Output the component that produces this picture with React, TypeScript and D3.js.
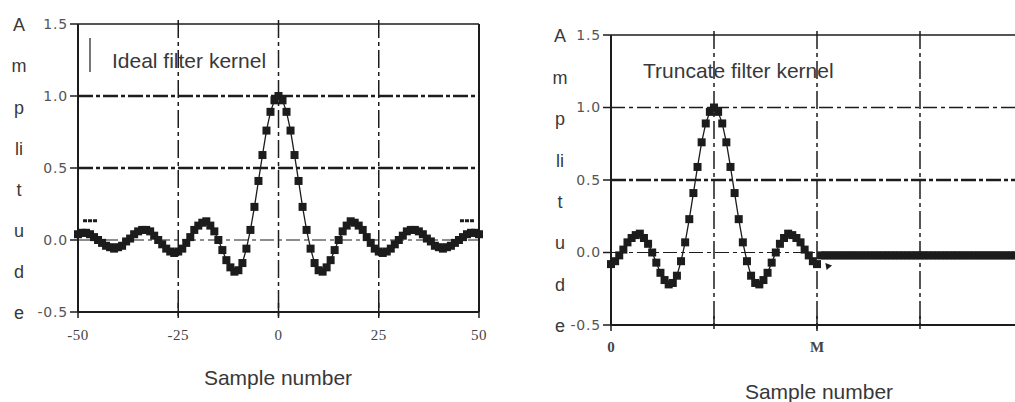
import * as d3 from "d3";

const W = 1015;
const H = 402;

const Y_TICKS = [1.5, 1.0, 0.5, 0.0, -0.5];
const Y_TICK_LABELS = ["1.5", "1.0", "0.5", "0.0", "-0.5"];
const AXIS_LETTERS = ["A", "m", "p", "li", "t", "u", "d", "e"];

// ideal (infinite) kernel, sample -50 .. 50
const IDEAL_START = -50;
const IDEAL_X_TICKS = [-50, -25, 0, 25, 50];
const IDEAL_X_LABELS = ["-50", "-25", "0", "25", "50"];
const IDEAL_GRID_X = [-25, 0, 25];
const IDEAL_KERNEL = [
  0.04, 0.05, 0.05, 0.04, 0.02, 0.0, -0.02, -0.04, -0.05, -0.06,
  -0.05, -0.04, -0.01, 0.01, 0.04, 0.06, 0.07, 0.07, 0.06, 0.03,
  0.0, -0.03, -0.06, -0.08, -0.09, -0.08, -0.06, -0.02, 0.02, 0.07,
  0.1, 0.12, 0.13, 0.1, 0.06, 0.0, -0.07, -0.14, -0.19, -0.22,
  -0.21, -0.16, -0.06, 0.07, 0.23, 0.41, 0.59, 0.76, 0.89, 0.97,
  1.0,
  0.97, 0.89, 0.76, 0.59, 0.41, 0.23, 0.07, -0.06, -0.16, -0.21,
  -0.22, -0.19, -0.14, -0.07, 0.0, 0.06, 0.1, 0.13, 0.12, 0.1,
  0.07, 0.02, -0.02, -0.06, -0.08, -0.09, -0.08, -0.06, -0.03, 0.0,
  0.03, 0.06, 0.07, 0.07, 0.06, 0.04, 0.01, -0.01, -0.04, -0.05,
  -0.06, -0.05, -0.04, -0.02, 0.0, 0.02, 0.04, 0.05, 0.05, 0.04,
];

// truncated kernel, sample 0 .. M (M = 50), then flat tail
const TRUNC_X_TICKS = [0, 50];
const TRUNC_X_LABELS = ["0", "M"];
const TRUNC_GRID_X = [25, 50, 75];
const TRUNC_KERNEL = [
  -0.08, -0.06, -0.02, 0.02, 0.07, 0.1, 0.12, 0.13, 0.1, 0.06,
  0.0, -0.07, -0.14, -0.19, -0.22, -0.21, -0.16, -0.06, 0.07, 0.23,
  0.41, 0.59, 0.76, 0.89, 0.97, 1.0, 0.97, 0.89, 0.76, 0.59,
  0.41, 0.23, 0.07, -0.06, -0.16, -0.21, -0.22, -0.19, -0.14, -0.07,
  0.0, 0.06, 0.1, 0.13, 0.12, 0.1, 0.07, 0.02, -0.02, -0.06,
  -0.08,
];
const TRUNC_TAIL = [
  -0.02, -0.02, -0.02, -0.02, -0.02, -0.02, -0.02, -0.02, -0.02, -0.02,
  -0.02, -0.02, -0.02, -0.02, -0.02, -0.02, -0.02, -0.02, -0.02, -0.02,
  -0.02, -0.02, -0.02, -0.02, -0.02, -0.02, -0.02, -0.02, -0.02, -0.02,
  -0.02, -0.02, -0.02, -0.02, -0.02, -0.02, -0.02, -0.02, -0.02, -0.02,
  -0.02, -0.02, -0.02, -0.02, -0.02, -0.02, -0.02, -0.02, -0.02,
];

const INK = "#1c1c1c";
const TEXT = "#383838";
const SANS = "'Liberation Sans', Arial, sans-serif";
const SERIF = "'Liberation Serif', 'Times New Roman', serif";
const TICK_FONT = "'DejaVu Sans', sans-serif";
const SQ = 8;

type PanelProps = {
  x: d3.ScaleLinear<number, number>;
  y: d3.ScaleLinear<number, number>;
  points: [number, number][];
  tail?: [number, number][];
  gridX: number[];
  xTicks: number[];
  xLabels: string[];
  letterX: number;
  title: string;
  titleY: number;
  xTitleY: number;
  xTitleX: number;
  labelDy: number;
  boldLabels?: boolean;
  legendBar?: boolean;
  thinTopGrid?: boolean;
};

function Panel(p: PanelProps) {
  const { x, y } = p;
  const [x0, x1] = x.range();
  const [yb, yt] = y.range();
  const line = d3
    .line<[number, number]>()
    .x((d) => x(d[0]))
    .y((d) => y(d[1]));
  const letters = d3.scalePoint<string>().domain(AXIS_LETTERS).range([yt + 1, yb + 1]);

  const hGrid = (v: number) => {
    if (v === 0) return { w: 1.2, dash: "14 4 4 4" };
    if (v === 1 && p.thinTopGrid) return { w: 1.7, dash: "14 4 4 4" };
    return { w: 2.6, dash: "15 3 4 3" };
  };

  return (
    <g>
      {/* frame */}
      <line x1={x0} x2={x1} y1={yt} y2={yt} stroke={INK} strokeWidth={1.6} />
      <line x1={x1} x2={x1} y1={yt} y2={yb} stroke={INK} strokeWidth={2} />
      <line x1={x0} x2={x0} y1={yt} y2={yb} stroke={INK} strokeWidth={2} />
      <line x1={x0} x2={x1} y1={yb} y2={yb} stroke={INK} strokeWidth={2} />

      {/* grid */}
      {[1.0, 0.5, 0.0].map((v) => (
        <line
          key={"h" + v}
          x1={x0}
          x2={x1}
          y1={y(v)}
          y2={y(v)}
          stroke={INK}
          strokeWidth={hGrid(v).w}
          strokeDasharray={hGrid(v).dash}
        />
      ))}
      {p.gridX.map((v) => (
        <line
          key={"v" + v}
          x1={x(v)}
          x2={x(v)}
          y1={yt - 4}
          y2={yb}
          stroke={INK}
          strokeWidth={1.5}
          strokeDasharray="18 4 4 4"
        />
      ))}

      {/* y ticks */}
      {Y_TICKS.map((v, i) => (
        <g key={"yt" + v}>
          <line x1={x0 - 8} x2={x0} y1={y(v)} y2={y(v)} stroke={INK} strokeWidth={1.5} />
          <text
            x={x0 - 10}
            y={y(v)}
            dy="0.35em"
            textAnchor="end"
            fontFamily={TICK_FONT}
            fontSize={14}
            letterSpacing={0.8}
            fill="#555"
          >
            {Y_TICK_LABELS[i]}
          </text>
        </g>
      ))}

      {/* x ticks */}
      {p.xTicks.map((v, i) => (
        <g key={"xt" + v}>
          <line x1={x(v)} x2={x(v)} y1={yb} y2={yb + 6} stroke={INK} strokeWidth={1.5} />
          <text
            x={x(v)}
            y={yb + p.labelDy}
            textAnchor="middle"
            fontFamily={SERIF}
            fontSize={15}
            fontWeight={p.boldLabels ? 700 : 400}
            letterSpacing={p.boldLabels ? 0 : 0.5}
            fill="#444"
          >
            {p.xLabels[i]}
          </text>
        </g>
      ))}
      {p.gridX.map((v) => (
        <line key={"bt" + v} x1={x(v)} x2={x(v)} y1={yb - 9} y2={yb + 4} stroke={INK} strokeWidth={1.5} />
      ))}

      {/* axis letters */}
      {AXIS_LETTERS.map((l) => (
        <text
          key={l}
          x={p.letterX}
          y={letters(l)}
          dy="0.35em"
          textAnchor="middle"
          fontFamily={SANS}
          fontSize={18}
          fill={TEXT}
        >
          {l}
        </text>
      ))}

      {/* series */}
      <path d={line(p.points) ?? ""} fill="none" stroke={INK} strokeWidth={1.3} />
      {p.points.map((d, i) => (
        <rect key={"s" + i} x={x(d[0]) - SQ / 2} y={y(d[1]) - SQ / 2} width={SQ} height={SQ} fill={INK} />
      ))}
      {p.tail && (
        <>
          <path d={line(p.tail) ?? ""} fill="none" stroke={INK} strokeWidth={1.3} />
          {p.tail.map((d, i) => (
            <rect key={"t" + i} x={x(d[0]) - SQ / 2} y={y(d[1]) - SQ / 2} width={SQ} height={SQ} fill={INK} />
          ))}
        </>
      )}

      {/* titles */}
      {p.legendBar && (
        <line x1={x0 + 12} x2={x0 + 12} y1={yt + 14} y2={yt + 48} stroke={INK} strokeWidth={1.2} />
      )}
      <text x={p.legendBar ? x0 + 34 : x0 + 32} y={p.titleY} fontFamily={SANS} fontSize={21} fill={TEXT}>
        {p.title}
      </text>
      <text x={p.xTitleX} y={p.xTitleY} textAnchor="middle" fontFamily={SANS} fontSize={21} fill={TEXT}>
        Sample number
      </text>
    </g>
  );
}

export default function App() {
  const xIdeal = d3.scaleLinear().domain([-50, 50]).range([78, 479]);
  const yIdeal = d3.scaleLinear().domain([-0.5, 1.5]).range([312, 24]);
  const xTrunc = d3.scaleLinear().domain([0, 100]).range([611, 1023]);
  const yTrunc = d3.scaleLinear().domain([-0.5, 1.5]).range([325, 35]);

  const idealPts: [number, number][] = IDEAL_KERNEL.map((v, i) => [IDEAL_START + i, v]);
  const truncPts: [number, number][] = TRUNC_KERNEL.map((v, i) => [i, v]);
  const tailPts: [number, number][] = TRUNC_TAIL.map((v, i) => [TRUNC_KERNEL.length + i, v]);

  const first = idealPts[3];
  const last = idealPts[idealPts.length - 4];
  const endPt = truncPts[truncPts.length - 1];

  return (
    <svg
      width={W}
      height={H}
      style={{ position: "absolute", left: 0, top: 0, background: "#fff" }}
    >
      <rect width={W} height={H} fill="#fff" />
      <Panel
        x={xIdeal}
        y={yIdeal}
        points={idealPts}
        gridX={IDEAL_GRID_X}
        xTicks={IDEAL_X_TICKS}
        xLabels={IDEAL_X_LABELS}
        letterX={19}
        title="Ideal filter kernel"
        titleY={68}
        xTitleX={278}
        xTitleY={385}
        labelDy={28}
        legendBar
      />
      <Panel
        x={xTrunc}
        y={yTrunc}
        points={truncPts}
        tail={tailPts}
        gridX={TRUNC_GRID_X}
        xTicks={TRUNC_X_TICKS}
        xLabels={TRUNC_X_LABELS}
        letterX={560}
        title="Truncate filter kernel"
        titleY={78}
        xTitleX={819}
        xTitleY={399}
        labelDy={27}
        boldLabels
        thinTopGrid
      />
      {/* continuation dots at the ends of the ideal kernel */}
      {[first, last].map((d, k) =>
        [-5, 0, 5].map((o) => (
          <rect
            key={k + "_" + o}
            x={xIdeal(d[0]) + o - 2}
            y={yIdeal(d[1]) - 15}
            width={4}
            height={3}
            fill={INK}
          />
        ))
      )}
      {/* small marker after the last truncated sample */}
      <path
        d={d3.symbol(d3.symbolTriangle, 22)() ?? ""}
        transform={`translate(${xTrunc(endPt[0]) + 11},${yTrunc(endPt[1]) + 2}) rotate(200)`}
        fill={INK}
      />
    </svg>
  );
}
